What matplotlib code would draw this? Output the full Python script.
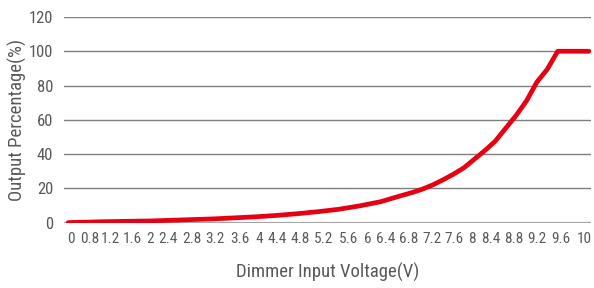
import numpy as np
import matplotlib
matplotlib.use('Agg')
import matplotlib.pyplot as plt

# dimmer curve, every 0.2 V
voltage = [0.0, 0.2, 0.4, 0.6, 0.8, 1.0, 1.2, 1.4, 1.6, 1.8,
           2.0, 2.2, 2.4, 2.6, 2.8, 3.0, 3.2, 3.4, 3.6, 3.8,
           4.0, 4.2, 4.4, 4.6, 4.8, 5.0, 5.2, 5.4, 5.6, 5.8,
           6.0, 6.2, 6.4, 6.6, 6.8, 7.0, 7.2, 7.4, 7.6, 7.8,
           8.0, 8.2, 8.4, 8.6, 8.8, 9.0, 9.2, 9.4, 9.6, 9.8, 10.0]
output = [0.0, 0.2, 0.3, 0.5, 0.6, 0.7, 0.8, 0.9, 1.0, 1.2,
          1.4, 1.6, 1.8, 2.0, 2.2, 2.5, 2.8, 3.1, 3.4, 3.8,
          4.2, 4.7, 5.2, 5.8, 6.4, 7.1, 7.8, 8.8, 9.8, 11.0,
          12.2, 14.0, 15.8, 17.5, 19.5, 22.0, 25.0, 28.3, 32.0, 37.0,
          42.0, 47.5, 55.0, 62.5, 71.0, 82.0, 89.5, 100, 100, 100, 100]

tick_labels = ['0', '0.8', '1.2', '1.6', '2', '2.4', '2.8', '3.2', '3.6', '4',
               '4.4', '4.8', '5.2', '5.6', '6', '6.4', '6.8', '7.2', '7.6', '8',
               '8.4', '8.8', '9.2', '9.6', '10']
y_ticks = [0, 20, 40, 60, 80, 100, 120]

# the labels in the original are packed like one line of text,
# so their centres (in pixels of the 594 px wide picture) are not even
label_px = [70.7, 89.3, 110.7, 132.3, 150, 168.3, 191.7, 215, 240, 259,
            276.7, 300, 324, 349, 368.3, 385.7, 409, 431.7, 454, 472.3,
            490.7, 514, 537.3, 560.7, 584]

plt.rcParams['font.family'] = ['Roboto Condensed', 'DejaVu Sans']
plt.rcParams['font.stretch'] = 'condensed'

txt = '#595959'

fig = plt.figure(figsize=(5.94, 2.88), dpi=100)
ax_l, ax_w = 0.108, 0.887
ax = fig.add_axes([ax_l, 0.227, ax_w, 0.714])

for v in y_ticks[1:]:
    ax.axhline(v, color='#7f7f7f', linewidth=1.0, zorder=1)
ax.axhline(0, color='#a6a6a6', linewidth=1.6, zorder=1)

ax.plot(voltage, output, color='#e60012', linewidth=3.4, solid_capstyle='round',
        solid_joinstyle='round', zorder=3)

x0, x1 = -0.077, 10.04
ax.set_xlim(x0, x1)
ax.set_ylim(0, 120)
ax.set_yticks(y_ticks)
ax.set_yticklabels([str(v) for v in y_ticks])

# pixel centres -> data coordinates
tick_pos = [x0 + (p / 594 - ax_l) / ax_w * (x1 - x0) for p in label_px]
ax.set_xticks(tick_pos)
ax.set_xticklabels(tick_labels)
ax.tick_params(axis='x', length=0, labelsize=11, labelcolor=txt, pad=7)
ax.tick_params(axis='y', length=0, labelsize=12, labelcolor=txt, pad=8)

for s in ax.spines.values():
    s.set_visible(False)

ax.set_xlabel('Dimmer Input Voltage(V)', fontsize=13.5, color=txt, labelpad=12)
ax.set_ylabel('Output Percentage(%)', fontsize=13.5, color=txt, labelpad=1)

fig.savefig('out.png', dpi=100)
